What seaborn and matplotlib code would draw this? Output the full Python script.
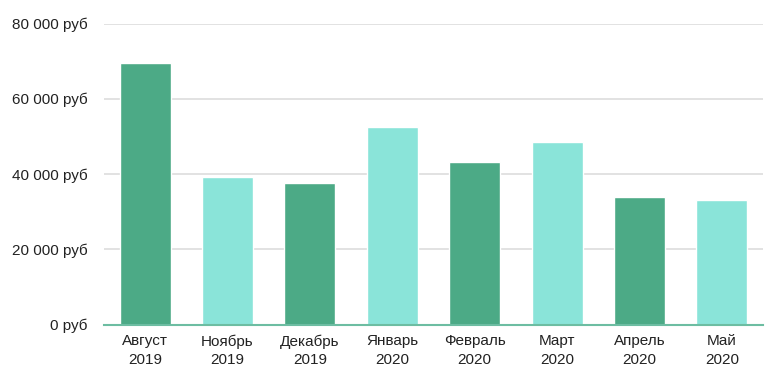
import matplotlib
matplotlib.use('Agg')
import matplotlib.pyplot as plt
import seaborn as sns
import pandas as pd

months = ["Август\n2019", "Ноябрь\n2019", "Декабрь\n2019", "Январь\n2020",
          "Февраль\n2020", "Март\n2020", "Апрель\n2020", "Май\n2020"]
revenue = [69600, 39100, 37500, 52600, 43300, 48600, 33800, 33000]
y_ticks = [0, 20000, 40000, 60000, 80000]

dark = "#4CAA86"
light = "#8AE4D9"
bar_colors = [dark, light] * 4

sns.set_theme(style="white")
plt.rcParams['font.family'] = ['Liberation Sans', 'DejaVu Sans']

df = pd.DataFrame({"month": months, "revenue": revenue})

fig = plt.figure(figsize=(7.73, 3.86), dpi=100)
ax = fig.add_axes([104 / 773, 1 - 324.5 / 386, (763 - 104) / 773, (324.5 - 23.5) / 386])

sns.barplot(data=df, x="month", y="revenue", hue="month", palette=bar_colors,
            legend=False, width=0.62, saturation=1, ax=ax)

ax.set_ylim(0, 80000)
ax.set_xlim(-0.5, len(months) - 0.5)
ax.set_yticks(y_ticks)
ax.set_yticklabels([f"{v:,}".replace(",", " ") + " руб" for v in y_ticks])
ax.yaxis.grid(True, color="#dddddd", linewidth=1.2)
ax.set_axisbelow(True)
ax.set_xlabel("")
ax.set_ylabel("")

for side in ["top", "right", "left"]:
    ax.spines[side].set_visible(False)
ax.spines["bottom"].set_color("#6DBDA2")
ax.spines["bottom"].set_linewidth(1.5)

ax.tick_params(axis="both", length=0, colors="#222222")
ax.tick_params(axis="y", pad=12, labelsize=11)
ax.tick_params(axis="x", pad=7, labelsize=11)
for lbl in ax.get_xticklabels():
    lbl.set_linespacing(1.4)

fig.savefig("out.png", dpi=100)
